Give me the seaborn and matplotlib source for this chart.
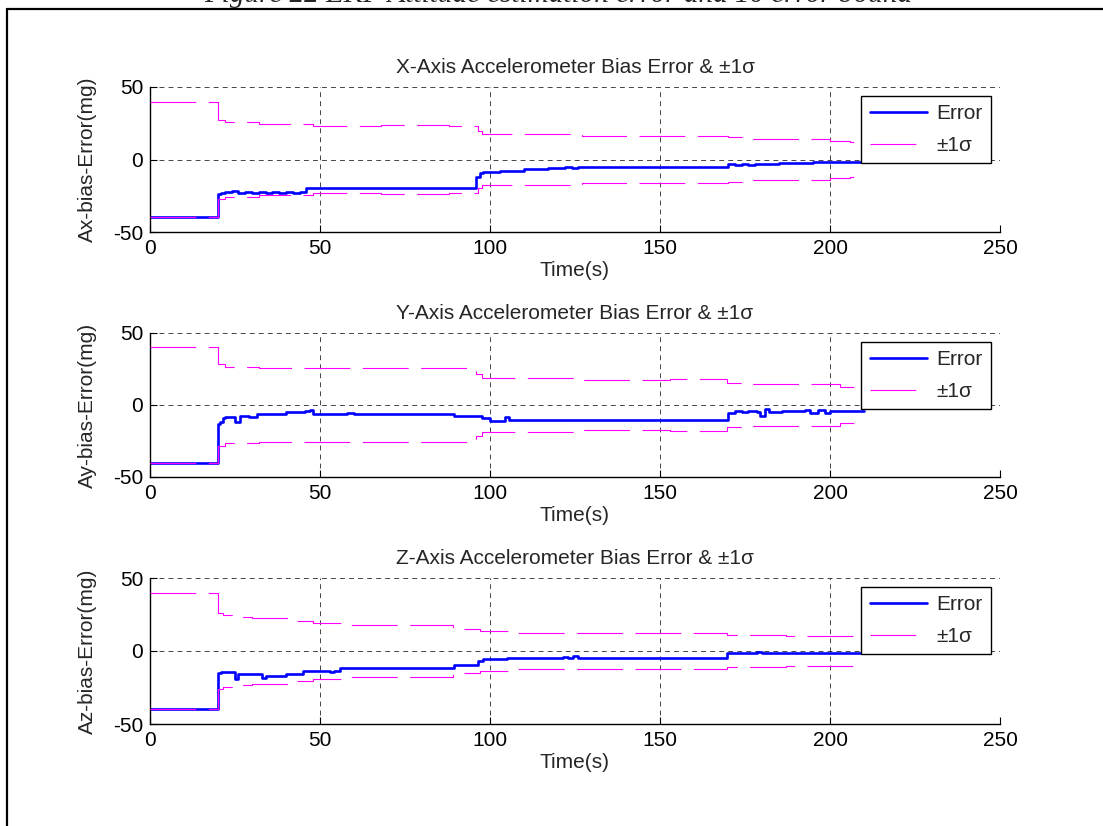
import matplotlib
matplotlib.use("Agg")
import matplotlib.pyplot as plt
from matplotlib.lines import Line2D
import seaborn as sns

# ---------------- data ----------------
# X-axis accelerometer bias error (step data: time, value)
tx_err = [0, 20, 21, 22, 24, 26, 28, 30, 32, 34, 36, 38, 40, 42, 44, 46, 96, 97, 98, 100, 103, 106,
          110, 117, 122, 124, 126, 128, 170, 172, 174, 176, 178, 185, 195, 203, 210]
x_err = [-39.5, -23.7, -23.0, -22.4, -22.0, -22.8, -22.2, -22.9, -22.3, -22.9, -22.4, -22.8, -22.5,
         -22.8, -22.2, -20.0, -12.2, -9.4, -8.6, -8.9, -8.2, -7.6, -6.6, -5.9, -5.2, -5.9, -5.0, -5.1,
         -3.0, -3.6, -2.9, -3.5, -2.8, -2.2, -2.0, -1.6, -1.6]
tx_sig = [0, 20, 22, 32, 48, 68, 88, 96.6, 97.6, 100, 127, 170, 177, 200, 206, 210]
x_sig = [40, 27.4, 26.2, 24.6, 23.4, 24.0, 23.4, 20.0, 17.7, 17.5, 16.4, 15.8, 14.3, 13.1, 12.4, 12.4]

# Y-axis accelerometer bias error
ty_err = [0, 20, 20.5, 21.5, 22, 25, 26.5, 29, 31.4, 40, 45.5, 47, 48, 58, 60, 89.5, 97.6, 100, 104.5,
          105.5, 106.5, 170, 172, 174, 176, 178.5, 179.5, 181, 182, 186, 192.5, 194, 196.5, 198.5, 200, 210]
y_err = [-40.0, -13.2, -11.5, -9.2, -8.1, -12.0, -7.4, -8.4, -6.3, -5.2, -4.3, -3.3, -6.3, -5.6, -6.3,
         -7.4, -9.0, -10.9, -8.1, -10.4, -10.2, -5.6, -4.3, -5.2, -4.4, -4.8, -7.4, -2.8, -5.2, -4.5,
         -3.3, -5.6, -3.3, -5.4, -4.3, -4.3]
ty_sig = [0, 20, 22, 32, 96, 97.6, 127, 153, 169.6, 177, 203, 210]
y_sig = [40, 28.3, 26.5, 25.5, 21.6, 18.5, 17.4, 18.3, 15.2, 14.8, 12.7, 12.7]

# Z-axis accelerometer bias error
tz_err = [0, 20, 21, 25, 26, 33, 34, 40, 45, 53, 54, 56, 89.5, 96.6, 98, 105, 112, 121.5, 123, 124.5,
          126, 128, 169.6, 178.5, 180, 210]
z_err = [-39.5, -14.8, -14.4, -19.3, -15.9, -18.2, -17.3, -15.9, -13.7, -14.4, -13.7, -11.4, -9.8,
         -6.8, -5.7, -5.0, -4.6, -3.9, -4.9, -3.4, -4.6, -4.8, -1.6, -0.7, -1.6, -1.6]
tz_sig = [0, 20, 21.5, 25, 30, 42, 48, 58, 89, 90.5, 97, 108, 128, 148, 169.6, 187, 210]
z_sig = [40, 26.2, 24.6, 23.5, 22.3, 20.5, 19.4, 17.8, 16.0, 14.8, 13.7, 12.6, 12.0, 12.6, 11.0, 10.0, 10.0]

titles = ["X-Axis Accelerometer Bias Error & \u00b11\u03c3",
          "Y-Axis Accelerometer Bias Error & \u00b11\u03c3",
          "Z-Axis Accelerometer Bias Error & \u00b11\u03c3"]
ylabels = ["Ax-bias-Error(mg)", "Ay-bias-Error(mg)", "Az-bias-Error(mg)"]
xlabel = "Time(s)"
xticks = [0, 50, 100, 150, 200, 250]
yticks = [-50, 0, 50]
legend_labels = ["Error", "\u00b11\u03c3"]
caption = "Figure 22 EKF Attitude estimation error and 1\u03c3 error bound"

# ---------------- style ----------------
sns.set_style("white")
plt.rcParams["font.family"] = ["Liberation Sans", "DejaVu Sans"]
plt.rcParams["lines.scale_dashes"] = False
plt.rcParams["axes.unicode_minus"] = False
FS = 15

fig = plt.figure(figsize=(11.03, 8.26), dpi=100)
W, H = 1103.0, 826.0
ax_px = [(87, 232), (333, 477), (578, 724)]
left, right = 150, 1000

series = [(tx_err, x_err, tx_sig, x_sig), (ty_err, y_err, ty_sig, y_sig), (tz_err, z_err, tz_sig, z_sig)]

for i, (top, bot) in enumerate(ax_px):
    ax = fig.add_axes([left / W, 1 - bot / H, (right - left) / W, (bot - top) / H])
    te, ve, ts, vs = series[i]
    sns.lineplot(x=te, y=ve, ax=ax, color="#0000FF", lw=1.9, drawstyle="steps-post",
                 estimator=None, legend=False, zorder=2)
    h_err = ax.lines[-1]
    sns.lineplot(x=ts, y=vs, ax=ax, color="#FF00FF", lw=0.8, drawstyle="steps-post",
                 estimator=None, legend=False, zorder=3, linestyle=(0, (33, 9)))
    h_sig = ax.lines[-1]
    sns.lineplot(x=ts, y=[-v for v in vs], ax=ax, color="#FF00FF", lw=0.8, drawstyle="steps-post",
                 estimator=None, legend=False, zorder=3, linestyle=(0, (33, 9)))

    ax.set_xlim(0, 250)
    ax.set_ylim(-50, 50)
    ax.set_xticks(xticks)
    ax.set_yticks(yticks)
    ax.tick_params(axis="both", direction="in", length=5, width=0.8, labelsize=FS,
                   colors="black", bottom=True, left=True, top=False, right=False)
    ax.tick_params(axis="x", pad=5)
    ax.tick_params(axis="y", pad=5)
    for s in ["top", "right"]:
        ax.spines[s].set_visible(False)
    for s in ["bottom", "left"]:
        ax.spines[s].set_color("black")
        ax.spines[s].set_linewidth(1.0)
    ax.grid(True, color="0.15", linestyle=(0, (3.5, 3)), linewidth=0.6)
    ax.set_axisbelow(True)
    ax.set_title(titles[i], fontsize=FS, pad=10)
    ax.set_xlabel(xlabel, fontsize=FS)
    ax.set_ylabel(ylabels[i], fontsize=FS)
    ax.xaxis.set_label_coords(0.5, -0.2)
    ax.yaxis.set_label_coords(-0.062, 0.5)
    leg = ax.legend(handles=[h_err, h_sig], labels=legend_labels, loc="upper right",
                    fontsize=FS, frameon=True, fancybox=False, framealpha=1,
                    edgecolor="black", handlelength=2.75, borderaxespad=0.43,
                    borderpad=0.4, labelspacing=0.6, handletextpad=0.45)
    leg.get_frame().set_linewidth(1.0)

# frame and cut caption
fig.add_artist(Line2D([7 / W, 7 / W], [0, 1 - 9 / H], color="black", lw=1.6))
fig.add_artist(Line2D([7 / W, 1], [1 - 9 / H, 1 - 9 / H], color="black", lw=1.6))
fig.text(558 / W, 1 - 2 / H, caption, ha="center", va="baseline", fontsize=21,
         style="italic", family=["Liberation Serif", "DejaVu Serif"])

fig.savefig("out.png", dpi=100)
